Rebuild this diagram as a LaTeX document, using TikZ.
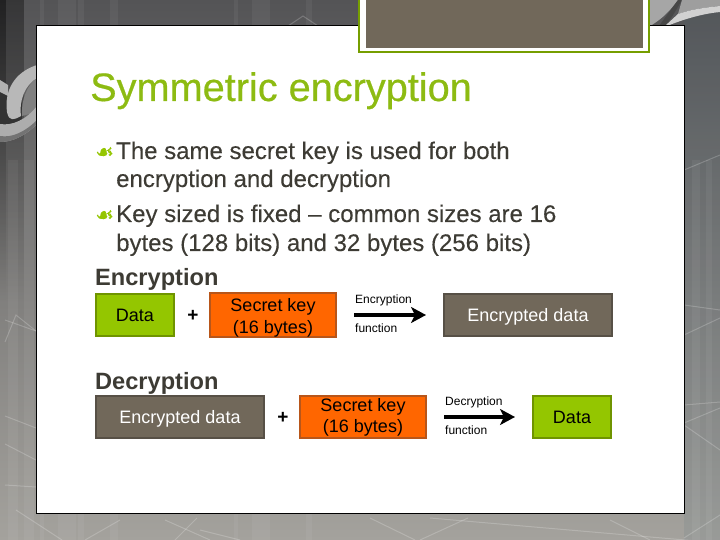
\documentclass[tikz,border=0pt]{standalone}
\usepackage{fontspec}
\usepackage{xcolor}
\setmainfont{Liberation Sans}
\newfontfamily\bulletfont[FakeBold=0.3]{DejaVu Sans}
\newfontfamily\titlefont[FakeBold=0.5]{Liberation Sans}
\newfontfamily\bodyfont[FakeBold=0.15]{Liberation Sans}
\usetikzlibrary{arrows.meta,fadings}
\definecolor{slategreen}{HTML}{94C600}
\definecolor{titlegreen}{HTML}{8DBB12}
\definecolor{edgegreen}{HTML}{6F9400}
\definecolor{keyorange}{HTML}{FF6600}
\definecolor{edgeorange}{HTML}{B8561A}
\definecolor{taupe}{HTML}{71685A}
\definecolor{edgetaupe}{HTML}{575046}
\definecolor{bodytext}{HTML}{3D3B34}
\definecolor{backtop}{HTML}{545456}
\definecolor{backbottom}{HTML}{A4A29D}
\tikzset{
    hexline/.style={white, opacity=0.2, line width=1pt},
    stripe/.style={white, opacity=0.05},
    bodyline/.style={anchor=base west, inner sep=0pt, text=bodytext, font=\bodyfont\fontsize{24}{29}\selectfont},
    headline/.style={anchor=base west, inner sep=0pt, text=bodytext, font=\fontsize{23.6}{29}\selectfont\bfseries},
    bulletmark/.style={anchor=base west, inner sep=0pt, text=slategreen, font=\bulletfont\fontsize{21}{21}\selectfont},
    smalllabel/.style={anchor=base west, inner sep=0pt, text=black, font=\fontsize{12}{14}\selectfont},
    plusmark/.style={inner sep=0pt, text=black, font=\bfseries\fontsize{19}{22}\selectfont},
    flowbox/.style={draw, line width=2pt, minimum height=41.5pt, inner sep=0pt, align=center, font=\fontsize{18}{21.6}\selectfont},
    databox/.style={flowbox, fill=slategreen, draw=edgegreen, text=black, minimum width=78pt, text height=13pt, text depth=0pt},
    keybox/.style={flowbox, fill=keyorange, draw=edgeorange, text=black, minimum width=126pt},
    cipherbox/.style={flowbox, fill=taupe, draw=edgetaupe, text=white, minimum width=168pt, text height=13pt, text depth=0pt},
    flowarrow/.style={-{Stealth[length=15pt, width=16pt, inset=4pt]}, line width=3.5pt, black, shorten <=17pt, shorten >=17pt}
}
\begin{document}
\begin{tikzpicture}[x=1pt, y=-1pt]
    \useasboundingbox (0,0) rectangle (720,540);
    % background
    \shade[top color=backtop, bottom color=backbottom] (0,0) rectangle (720,540);
    \fill[black, opacity=0.6, path fading=south] (0,0) rectangle (6,300);
    \fill[black, opacity=0.35, path fading=south] (6,0) rectangle (24,300);
    \fill[cyan!40!black, opacity=0.12] (684,0) rectangle (720,540);
    \foreach \xa/\xb in {40/44, 58/76, 78/84, 110/118, 234/238, 252/270, 306/312} {
        \fill[stripe] (\xa,0) rectangle (\xb,26);
        \fill[stripe] (\xa,513) rectangle (\xb,540);
    }
    \foreach \xa/\xb in {8/18, 24/34, 692/700, 706/712} {
        \fill[stripe] (\xa,160) rectangle (\xb,540);
    }
    \foreach \xa/\ya/\xb/\yb/\xc/\yc in {
        5/320/36/331/36/331, 5/342/16/315/36/331, 5/416/36/428/36/428, 5/444/36/460/36/460,
        5/485/36/487/36/487, 16/510/62/540/62/540, 85/540/120/520/120/520, 165/520/210/540/210/540,
        175/540/197/518/197/518, 200/530/240/540/240/540, 370/518/415/540/415/540, 420/540/468/518/468/518,
        430/518/720/543/720/543, 610/520/650/540/650/540, 684/538/720/515/720/515,
        684/305/720/310/720/310, 684/335/720/318/720/318, 684/405/720/402/720/402,
        684/423/720/408/720/408, 684/425/720/450/720/450, 684/170/720/155/720/155} {
        \draw[hexline] (\xa,\ya) -- (\xb,\yb) -- (\xc,\yc);
    }
    \draw[hexline] (288,26) -- (303,16) -- (318,26);
    % chain
    \fill[black!80] (0,92) rectangle (22,128);
    \fill[black!30] (0,80) -- (8,85) -- (8,96) -- (0,92) -- cycle;
    \fill[black!28] (37,65) .. controls (15,72) and (4,90) .. (7,112) .. controls (9,122) and (14,120) .. (21,116)
        .. controls (19,100) and (25,85) .. (37,78) -- cycle;
    \fill[black!50] (37,78) .. controls (27,85) and (21,100) .. (22,116) -- (37,112) -- cycle;
    \fill[black!32] (0,124) .. controls (12,126) and (26,120) .. (37,106) -- (37,124) .. controls (25,136) and (12,142) .. (0,142) -- cycle;
    \fill[black!55] (0,136) .. controls (12,138) and (25,132) .. (37,120) -- (37,124) .. controls (25,136) and (12,142) .. (0,142) -- cycle;
    \fill[black!35] (650,0) -- (678,0) .. controls (672,8) and (664,18) .. (650,26) -- cycle;
    \fill[black!72] (678,0) -- (682,0) .. controls (676,10) and (672,18) .. (665,26) -- (659,26) -- cycle;
    \fill[black!38] (682,0) -- (720,0) -- (720,6) .. controls (700,8) and (690,10) .. (678,14) -- cycle;
    \fill[black!18] (678,14) .. controls (690,10) and (700,8) .. (720,6) -- (720,12) .. controls (700,14) and (682,20) .. (667,26) -- (665,26) -- cycle;
    % panel
    \draw[black, line width=1pt, fill=white] (36.5,26) rectangle (684.5,513.5);
    \fill[white] (358,0) rectangle (650,53);
    \draw[edgegreen!80!slategreen, line width=2pt] (359,0) -- (359,52.5) -- (649,52.5) -- (649,0);
    \fill[taupe] (366,0) rectangle (643,48);
    % text
    \node[anchor=base west, inner sep=0pt, text=titlegreen, font=\titlefont\fontsize{39.7}{48}\selectfont] (title) at (90,101) {Symmetric encryption};
    \node[bulletmark] (bulletone) at (95,159) {☙};
    \node[bodyline] (lineone) at (116,159) {The same secret key is used for both};
    \node[bodyline] (linetwo) at (116,187) {encryption and decryption};
    \node[bulletmark] (bullettwo) at (95,222) {☙};
    \node[bodyline] (linethree) at (116,222) {Key sized is fixed – common sizes are 16};
    \node[bodyline] (linefour) at (116,251) {bytes (128 bits) and 32 bytes (256 bits)};
    % encryption row
    \node[headline] (enchead) at (95,285) {Encryption};
    \node[databox] (encdata) at (135,315) {Data};
    \node[plusmark] (encplus) at (193,316) {+};
    \node[keybox] (enckey) at (273,315) {\rule{0pt}{19pt}Secret key\\(16 bytes)};
    \node[cipherbox] (encout) at (528,315) {Encrypted data};
    \node[smalllabel] (enctop) at (355,303) {Encryption};
    \node[smalllabel] (encbottom) at (355,332) {function};
    \draw[flowarrow] (enckey) -- (encout);
    % decryption row
    \node[headline] (dechead) at (95,389) {Decryption};
    \node[cipherbox] (decdata) at (180,417) {Encrypted data};
    \node[plusmark] (decplus) at (283,418) {+};
    \node[keybox] (deckey) at (363,417) {\rule{0pt}{14pt}Secret key\\(16 bytes)};
    \node[databox] (decout) at (572,417) {Data};
    \node[smalllabel] (dectop) at (445,405) {Decryption};
    \node[smalllabel] (decbottom) at (445,434) {function};
    \draw[flowarrow] (deckey) -- (decout);
\end{tikzpicture}
\end{document}
